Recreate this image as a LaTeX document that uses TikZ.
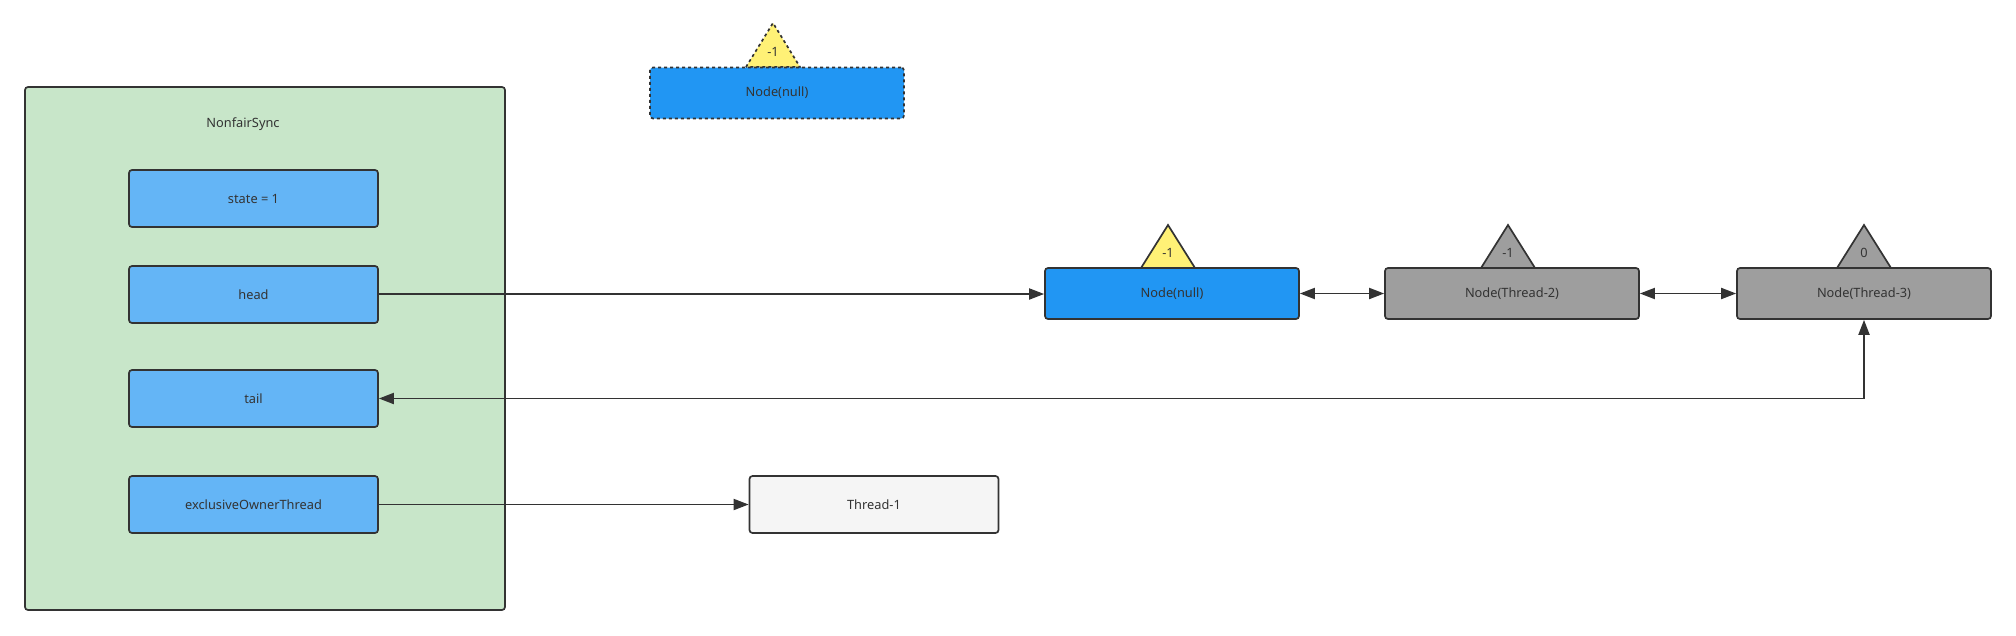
\documentclass[tikz,border=0pt]{standalone}
\usepackage{fontspec}
\setmainfont{Noto Sans}
\usetikzlibrary{arrows.meta}
\definecolor{strokec}{HTML}{333333}
\definecolor{txtc}{HTML}{333333}
\definecolor{greenfill}{HTML}{C8E6C9}
\definecolor{lightblue}{HTML}{64B5F6}
\definecolor{bluefill}{HTML}{2196F3}
\definecolor{grayfill}{HTML}{9E9E9E}
\definecolor{yellowfill}{HTML}{FFF176}
\definecolor{threadfill}{HTML}{F5F5F5}
\tikzset{
  box/.style={draw=strokec, line width=1.7pt, rounded corners=3pt, inner sep=0pt,
    text=txtc, font=\fontsize{12.8}{15}\selectfont, minimum width=249pt, minimum height=57pt},
  qbox/.style={box, minimum width=254pt, minimum height=51pt},
  tri/.style={draw=strokec, line width=1.7pt, line join=miter},
  lbl/.style={text=txtc, font=\fontsize{12.8}{15}\selectfont, inner sep=0pt},
  conn/.style={draw=strokec, line width=1.9pt},
  tip/.style={-{Triangle[length=15pt,width=11pt]}},
  dtip/.style={{Triangle[length=15pt,width=11pt]}-{Triangle[length=15pt,width=11pt]}},
  dashb/.style={dash pattern=on 3pt off 3pt}
}
\begin{document}
\begin{tikzpicture}[x=1pt,y=-1pt]
\useasboundingbox (0,0) rectangle (2016,635);

% NonfairSync container
\node[draw=strokec, fill=greenfill, line width=1.7pt, rounded corners=3pt, inner sep=0pt,
  minimum width=480pt, minimum height=523pt] (sync) at (265,348.5) {};
\node[lbl] (synclbl) at (243,124) {NonfairSync};

\node[box, fill=lightblue] (state) at (253.5,198.5) {state = 1};
\node[box, fill=lightblue] (head) at (253.5,294.5) {head};
\node[box, fill=lightblue] (tail) at (253.5,398.5) {tail};
\node[box, fill=lightblue] (owner) at (253.5,504.5) {exclusiveOwnerThread};

\node[box, fill=threadfill] (t1) at (874,504.5) {Thread-1};

% top dashed node
\draw[tri, dashb, fill=yellowfill] (746,67) -- (773,23) -- (800,67) -- cycle;
\node[qbox, fill=bluefill, dashb] (ntop) at (777,93) {Node(null)};
\node[lbl] (ntoplbl) at (773,52) {-1};

% queue nodes
\draw[tri, fill=yellowfill] (1141,268) -- (1168,225) -- (1195,268) -- cycle;
\draw[tri, fill=grayfill] (1481,268) -- (1508,225) -- (1535,268) -- cycle;
\draw[tri, fill=grayfill] (1837,268) -- (1864,225) -- (1891,268) -- cycle;
\node[qbox, fill=bluefill] (nnull) at (1172,293.5) {Node(null)};
\node[qbox, fill=grayfill] (t2) at (1512,293.5) {Node(Thread-2)};
\node[qbox, fill=grayfill] (t3) at (1864,293.5) {Node(Thread-3)};
\node[lbl] (l1) at (1168,253) {-1};
\node[lbl] (l2) at (1508,253) {-1};
\node[lbl] (l3) at (1864,253) {0};

% connectors
\draw[conn, tip] (head.east |- 0,294) -- (nnull.west |- 0,294);
\draw[conn, dtip] (nnull.east) -- (t2.west);
\draw[conn, dtip] (t2.east) -- (t3.west);
\draw[conn, dtip] (t3.south) |- (tail.east);
\draw[conn, tip] (owner.east) -- (t1.west);
\end{tikzpicture}
\end{document}
